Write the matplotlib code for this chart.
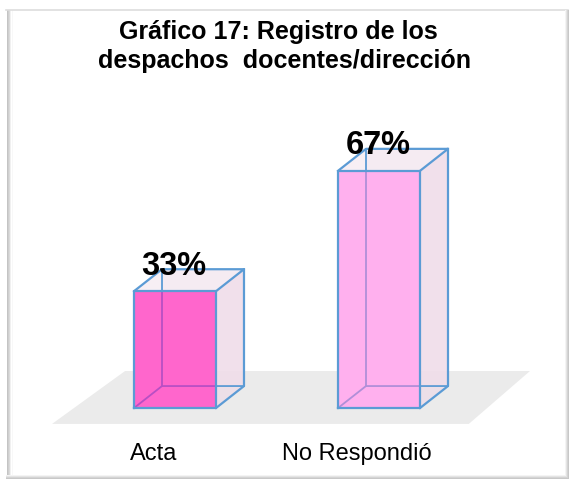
import matplotlib
matplotlib.use('Agg')
import matplotlib.pyplot as plt
from matplotlib.patches import Polygon, Rectangle

plt.rcParams['font.family'] = ['Liberation Sans', 'DejaVu Sans']

categories = ['Acta', 'No Respondió']
values = [33, 67]
value_labels = ['33%', '67%']
front_colors = ['#ff66cc', '#ffb0ee']
title_lines = ['Gráfico 17: Registro de los', 'despachos  docentes/dirección']

bar_w = 0.402
dx = 0.137
dy = 6.2
edge = '#5b9bd5'

def box(ax, x, h, color, hidden):
    l = x - bar_w / 2
    r = x + bar_w / 2
    # back walls first, then the front face on top
    ax.add_patch(Polygon([(l + dx, dy), (r + dx, dy), (r + dx, h + dy), (l + dx, h + dy)],
                         fc='#f4e6f0', ec='none', alpha=0.75, zorder=3))
    ax.add_patch(Polygon([(r, 0), (r + dx, dy), (r + dx, h + dy), (r, h)],
                         fc='#eed8e6', ec='none', alpha=0.6, zorder=3))
    ax.add_patch(Polygon([(l, h), (r, h), (r + dx, h + dy), (l + dx, h + dy)],
                         fc='#f5ebf2', ec='none', alpha=0.8, zorder=3))
    # hidden edges, blue outside the front face
    ax.plot([l + dx, l + dx], [dy, h + dy], color=edge, lw=1.3, zorder=3.5)
    ax.plot([l, l + dx, r + dx], [0, dy, dy], color=edge, lw=1.3, zorder=3.5)
    front = Rectangle((l, 0), bar_w, h, fc=color, ec='none', zorder=4)
    ax.add_patch(front)
    # same edges tinted where they show through the front face
    for xs, ys in [([l + dx, l + dx], [dy, h + dy]), ([l, l + dx, r + dx], [0, dy, dy])]:
        line, = ax.plot(xs, ys, color=hidden, lw=1.3, zorder=5)
        line.set_clip_path(front)
    lw = 1.6
    ax.plot([l, r, r, l, l], [0, 0, h, h, 0], color=edge, lw=lw, zorder=6)
    ax.plot([l, l + dx, r + dx, r], [h, h + dy, h + dy, h], color=edge, lw=lw, zorder=6)
    ax.plot([r + dx, r + dx, r], [h + dy, dy, 0], color=edge, lw=lw, zorder=6)

fig = plt.figure(figsize=(5.7, 4.8), dpi=100)
ax = fig.add_axes([0, 0, 1, 1])
ax.set_xlim(-0.858, 1.936)
ax.set_ylim(-20.34, 115.25)
ax.axis('off')

# floor
ax.add_patch(Polygon([(-0.603, -4.5), (1.44, -4.5), (1.74, 10.45), (-0.245, 10.45)],
                     fc='#ebebeb', ec='none', zorder=1))

hidden_colors = ['#b84fc4', '#b08fd8']
for i, (v, c) in enumerate(zip(values, front_colors)):
    box(ax, i, v, c, hidden_colors[i])
    ax.text(i - 0.005, v + 7.1, value_labels[i], ha='center', va='center',
            fontsize=23.5, fontweight='bold', color='black', zorder=8)
    ax.text(i - 0.107, -12.9, categories[i], ha='center', va='center',
            fontsize=17, color='black', zorder=8)

fig.text(278 / 570, 1 - 32 / 480, title_lines[0], ha='center', va='center', fontsize=18,
         fontweight='bold', color='black')
fig.text(285 / 570, 1 - 61 / 480, title_lines[1], ha='center', va='center', fontsize=18,
         fontweight='bold', color='black')

# picture frame with soft shadow on the left and right
for k, g in enumerate(['#c4c4c4', '#cfcfcf', '#dadada', '#e6e6e6', '#f0f0f0', '#f8f8f8']):
    fig.add_artist(plt.Line2D([(6.5 + k) / 570] * 2, [1 - 10 / 480, 1 - 474 / 480], color=g, lw=0.72))
fig.add_artist(plt.Line2D([6 / 570, 568 / 570], [1 - 9.5 / 480] * 2, color='#dddddd', lw=1.2))
for k, g in enumerate(['#f4f4f4', '#e4e4e4', '#d4d4d4', '#c8c8c8']):
    fig.add_artist(plt.Line2D([(565 + k) / 570] * 2, [1 - 10 / 480, 1 - 478 / 480], color=g, lw=0.72))
    fig.add_artist(plt.Line2D([6 / 570, 568 / 570], [1 - (475 + k) / 480] * 2, color=g, lw=0.72))

fig.savefig('out.png', dpi=100)
